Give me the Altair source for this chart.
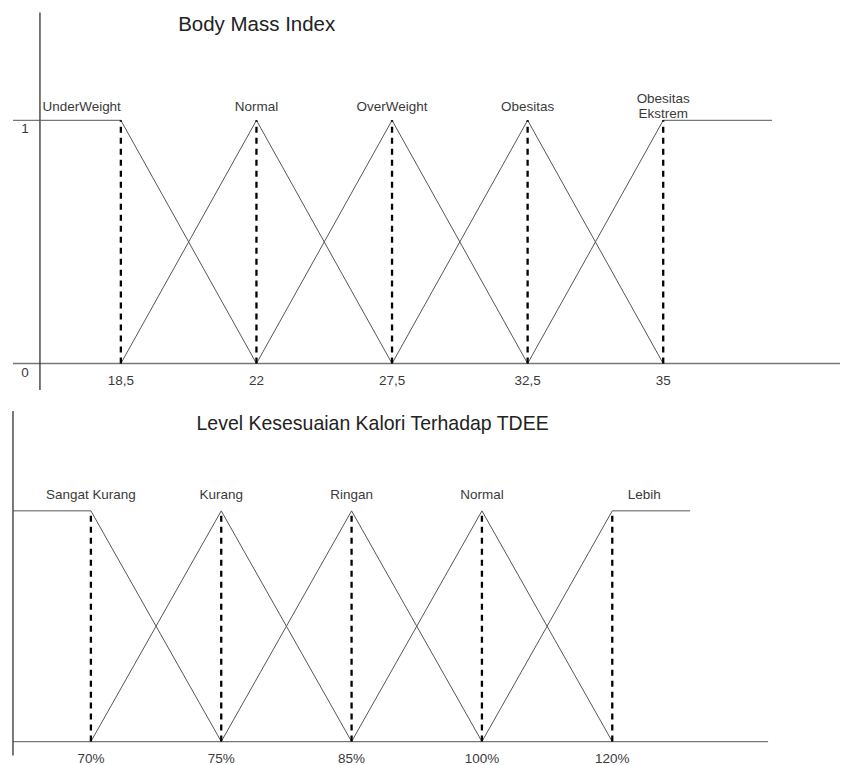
import altair as alt
import pandas as pd

FONT = "Liberation Sans"
TXT = "#3a3a3a"

# ---- data ----
bmi_title = "Body Mass Index"
bmi_ticks = ["18,5", "22", "27,5", "32,5", "35"]
bmi_sets = ["UnderWeight", "Normal", "OverWeight", "Obesitas", "Obesitas Ekstrem"]

tdee_title = "Level Kesesuaian Kalori Terhadap TDEE"
tdee_ticks = ["70%", "75%", "85%", "100%", "120%"]
tdee_sets = ["Sangat Kurang", "Kurang", "Ringan", "Normal", "Lebih"]

y_labels = ["0", "1"]
y_values = [0, 1]


def membership(sets, left_end, right_end):
    rows = []
    n = len(sets)
    for k, name in enumerate(sets, start=1):
        if k == 1:
            pts = [(left_end, 1), (k, 1), (k + 1, 0)]
        elif k == n:
            pts = [(k - 1, 0), (k, 1), (right_end, 1)]
        else:
            pts = [(k - 1, 0), (k, 1), (k + 1, 0)]
        for o, (x, v) in enumerate(pts):
            rows.append({"set": name, "x": x, "v": v, "o": o})
    return pd.DataFrame(rows)


def panel(title, ticks, sets, height, x_range, y_range, yaxis_x, yaxis_top,
          yaxis_bottom, base_end, right_px, title_x, title_y, title_size,
          label_y, tick_y, show_y_labels, special):
    x0, x1 = x_range
    n = len(ticks)
    step = (x1 - x0) / (n - 1)

    def px_to_i(p):
        return 1 + (p - x0) / step

    ya, yb = y_range  # pixel of v=0, v=1

    def py_to_v(p):
        return (ya - p) / (ya - yb)

    left_end = px_to_i(13)
    right_end = px_to_i(right_px)

    xs = alt.Scale(domain=[1, n], range=[x0, x1])
    ys = alt.Scale(domain=[0, 1], range=[ya, yb])
    X = lambda f: alt.X(f, type="quantitative", scale=xs, axis=None)
    Y = lambda f: alt.Y(f, type="quantitative", scale=ys, axis=None)

    mem = membership(sets, left_end, right_end)
    label_text = []
    for i, s in enumerate(sets):
        label_text.append(special.get(i, {}).get("text", s))
    pts = pd.DataFrame({
        "x": list(range(1, n + 1)), "tick": ticks, "set": label_text,
        "v0": [0] * n, "v1": [1] * n,
    })

    lines = alt.Chart(mem).mark_line(color="#555555", strokeWidth=1).encode(
        x=X("x"), y=Y("v"), detail="set:N", order="o:Q",
    )

    dashed = alt.Chart(pts).mark_rule(
        color="black", strokeWidth=2.3, strokeDash=[6, 5]
    ).encode(x=X("x"), y=Y("v0"), y2="v1:Q")

    frame = pd.DataFrame({
        "xa": [px_to_i(13), px_to_i(yaxis_x)],
        "xb": [px_to_i(base_end), px_to_i(yaxis_x)],
        "va": [0, py_to_v(yaxis_top)],
        "vb": [0, py_to_v(yaxis_bottom)],
        "kind": ["base", "yaxis"],
    })
    frame_rules = alt.Chart(frame).mark_rule(strokeWidth=1.3).encode(
        x=X("xa"), x2="xb:Q", y=Y("va"), y2="vb:Q",
        color=alt.Color("kind:N", scale=alt.Scale(domain=["base", "yaxis"],
                                                  range=["#777777", "#333333"]),
                        legend=None),
    )

    tick_text = alt.Chart(pts).mark_text(
        font=FONT, fontSize=13.5, color=TXT, baseline="middle"
    ).encode(x=X("x"), y=alt.value(tick_y), text="tick:N")

    normal_ids = [i for i in range(n) if i not in special]
    labels = alt.Chart(pts.iloc[normal_ids]).mark_text(
        font=FONT, fontSize=13.5, color=TXT, baseline="middle"
    ).encode(x=X("x"), y=alt.value(label_y), text="set:N")

    layers = [frame_rules, lines, dashed, tick_text, labels]

    for idx, props in special.items():
        layers.append(
            alt.Chart(pts.iloc[[idx]]).mark_text(
                font=FONT, fontSize=13.5, color=TXT, baseline="middle",
                align=props.get("align", "center"), dx=props.get("dx", 0),
                dy=props.get("dy", 0), lineHeight=15, lineBreak="\n",
            ).encode(x=X("x"), y=alt.value(label_y), text="set:N")
        )

    tdf = pd.DataFrame({"t": [title]})
    ttl = alt.Chart(tdf).mark_text(
        font=FONT, fontSize=title_size, color="#222222", baseline="middle"
    ).encode(x=alt.value(title_x), y=alt.value(title_y), text="t:N")
    layers.append(ttl)

    if show_y_labels:
        ydf = pd.DataFrame({"v": y_values, "lab": y_labels})
        ylab = alt.Chart(ydf).mark_text(
            font=FONT, fontSize=13.5, color=TXT, baseline="middle", dy=9
        ).encode(x=alt.value(25), y=Y("v"), text="lab:N")
        layers.append(ylab)

    return alt.layer(*layers).properties(width=841, height=height)


top = panel(
    bmi_title, bmi_ticks, bmi_sets, 390,
    x_range=(121, 664), y_range=(363.5, 120),
    yaxis_x=40, yaxis_top=12, yaxis_bottom=390, base_end=841, right_px=773,
    title_x=257, title_y=25, title_size=20.5, label_y=107, tick_y=381,
    show_y_labels=True,
    special={0: {"align": "right", "dx": 0},
             4: {"text": "Obesitas\nEkstrem", "dy": -8}},
)

bottom = panel(
    tdee_title, tdee_ticks, tdee_sets, 375,
    x_range=(91, 613), y_range=(351, 120),
    yaxis_x=13, yaxis_top=20, yaxis_bottom=365, base_end=769, right_px=691,
    title_x=373, title_y=33, title_size=19.5, label_y=104, tick_y=368,
    show_y_labels=False,
    special={4: {"dx": 32}},
)

chart = alt.vconcat(top, bottom, spacing=0).properties(padding=0).configure_view(
    stroke=None
)

chart.save("out.html", embed_options={"renderer": "svg", "actions": False})
